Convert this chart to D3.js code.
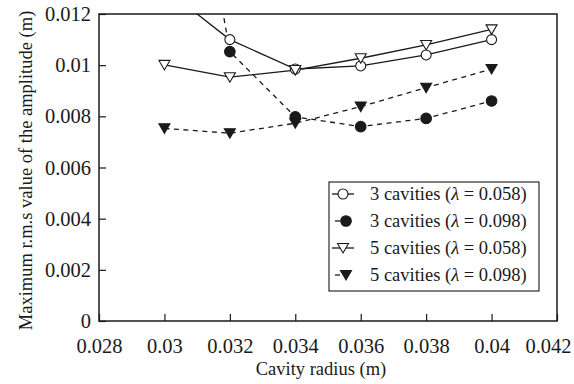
<!DOCTYPE html>
<html>
<head>
<meta charset="utf-8">
<script src="https://cdn.jsdelivr.net/npm/d3@7"></script>
<style>
  body { margin: 0; background: #fff; }
  svg { display: block; }
</style>
</head>
<body>
<div id="chart"></div>
<script>
// Cavity radius values (m)
const radius = [0.03, 0.032, 0.034, 0.036, 0.038, 0.04];

// Series values (m)
const cav3Low = [0.0130, 0.0110, 0.00985, 0.00997, 0.0104, 0.0110];
const cav3High = [0.0250, 0.01053, 0.00798, 0.00760, 0.00792, 0.0086];
const cav5Low = [0.01001, 0.00953, 0.00981, 0.01027, 0.01079, 0.0114];
const cav5High = [0.00753, 0.00734, 0.00773, 0.00838, 0.00912, 0.00985];

// Tick labels
const xTicks = [0.028, 0.03, 0.032, 0.034, 0.036, 0.038, 0.04, 0.042];
const xTickLabels = ["0.028", "0.03", "0.032", "0.034", "0.036", "0.038", "0.04", "0.042"];
const yTicks = [0, 0.002, 0.004, 0.006, 0.008, 0.01, 0.012];
const yTickLabels = ["0", "0.002", "0.004", "0.006", "0.008", "0.01", "0.012"];

const series = [
  { name: "3 cavities", lam: "0.058", values: cav3Low, marker: "circle", filled: false, dashed: false },
  { name: "3 cavities", lam: "0.098", values: cav3High, marker: "circle", filled: true, dashed: true },
  { name: "5 cavities", lam: "0.058", values: cav5Low, marker: "triangle", filled: false, dashed: false },
  { name: "5 cavities", lam: "0.098", values: cav5High, marker: "triangle", filled: true, dashed: true },
];

const width = 574, height = 384;
const margin = { top: 14, right: 17, bottom: 63, left: 99 };
const ink = "#1a1a1a";
const serifFont = "Liberation Serif";

const svg = d3.select("#chart")
  .append("svg")
  .attr("width", width)
  .attr("height", height)
  .attr("font-family", serifFont);

const x = d3.scaleLinear()
  .domain([0.028, 0.042])
  .range([margin.left, width - margin.right]);

const y = d3.scaleLinear()
  .domain([0, 0.012])
  .range([height - margin.bottom, margin.top]);

// Clip region for the plot
svg.append("clipPath")
  .attr("id", "plot-clip")
  .append("rect")
  .attr("x", x.range()[0])
  .attr("y", y.range()[1])
  .attr("width", x.range()[1] - x.range()[0])
  .attr("height", y.range()[0] - y.range()[1]);

// Axes with inward ticks
const xAxis = svg.append("g")
  .attr("transform", `translate(0,${y(0)})`)
  .call(d3.axisBottom(x)
    .tickValues(xTicks)
    .tickFormat((d, i) => xTickLabels[i])
    .tickSizeInner(-7)
    .tickSizeOuter(0)
    .tickPadding(17));

const yAxis = svg.append("g")
  .attr("transform", `translate(${x(0.028)},0)`)
  .call(d3.axisLeft(y)
    .tickValues(yTicks)
    .tickFormat((d, i) => yTickLabels[i])
    .tickSizeInner(-7)
    .tickSizeOuter(0)
    .tickPadding(8));

[xAxis, yAxis].forEach(g => {
  g.attr("font-family", serifFont).attr("font-size", 20.5);
  g.select(".domain").remove();
  g.selectAll("line").attr("stroke", ink).attr("stroke-width", 1.2);
  g.selectAll("text").attr("fill", ink);
});

// last x label sits a bit left so it stays on the page
xAxis.selectAll(".tick text")
  .filter((d, i) => i === xTicks.length - 1)
  .attr("dx", -9);

// Frame
svg.append("rect")
  .attr("x", x.range()[0])
  .attr("y", y.range()[1])
  .attr("width", x.range()[1] - x.range()[0])
  .attr("height", y.range()[0] - y.range()[1])
  .attr("fill", "none")
  .attr("stroke", ink)
  .attr("stroke-width", 1.5);

// Axis titles
svg.append("text")
  .attr("x", 321)
  .attr("y", 375)
  .attr("text-anchor", "middle")
  .attr("fill", ink)
  .attr("font-size", 18.5)
  .text("Cavity radius (m)");

svg.append("text")
  .attr("transform", `translate(32,${(y.range()[0] + y.range()[1]) / 2 + 3}) rotate(-90)`)
  .attr("text-anchor", "middle")
  .attr("fill", ink)
  .attr("font-size", 18.5)
  .text("Maximum r.m.s value of the amplitude (m)");

// Marker drawing helper
function drawMarker(sel, s) {
  if (s.marker === "circle") {
    sel.append("circle")
      .attr("r", s.filled ? 5.3 : 5)
      .attr("fill", s.filled ? ink : "#fff")
      .attr("stroke", ink)
      .attr("stroke-width", 1.1);
  } else {
    sel.append("path")
      .attr("d", "M-5.5,-4.5 L5.5,-4.5 L0,5 Z")
      .attr("fill", s.filled ? ink : "#fff")
      .attr("stroke", ink)
      .attr("stroke-width", 1.1);
  }
}

const plot = svg.append("g").attr("clip-path", "url(#plot-clip)");

const line = d3.line()
  .x((d, i) => x(radius[i]))
  .y(d => y(d));

// Lines first, then markers on top
series.forEach(s => {
  plot.append("path")
    .datum(s.values)
    .attr("d", line)
    .attr("fill", "none")
    .attr("stroke", ink)
    .attr("stroke-width", 1.3)
    .attr("stroke-dasharray", s.dashed ? "5,4.5" : null);
});

series.forEach(s => {
  plot.selectAll(null)
    .data(s.values.map((v, i) => [radius[i], v]).filter(d => d[1] <= 0.012))
    .join("g")
    .attr("transform", d => `translate(${x(d[0])},${y(d[1])})`)
    .each(function () { drawMarker(d3.select(this), s); });
});

// Legend
const legend = svg.append("g");
legend.append("rect")
  .attr("x", 329)
  .attr("y", 182)
  .attr("width", 210)
  .attr("height", 109)
  .attr("fill", "#fff")
  .attr("stroke", ink)
  .attr("stroke-width", 1.1);

series.forEach((s, i) => {
  const cy = 194 + i * 27;
  const row = legend.append("g");
  if (s.dashed) {
    row.append("line")
      .attr("x1", 335).attr("x2", 340)
      .attr("y1", cy).attr("y2", cy)
      .attr("stroke", ink).attr("stroke-width", 1.3);
  } else {
    row.append("line")
      .attr("x1", 332).attr("x2", 354)
      .attr("y1", cy).attr("y2", cy)
      .attr("stroke", ink).attr("stroke-width", 1.3);
  }
  const m = row.append("g")
    .attr("transform", `translate(${s.dashed ? 346 : 343},${cy})`);
  drawMarker(m, s);

  const t = row.append("text")
    .attr("x", 370)
    .attr("y", cy + 6)
    .attr("fill", ink)
    .attr("font-size", 18.5);
  t.append("tspan").text(`${s.name} (`);
  t.append("tspan").attr("font-style", "italic").text("λ");
  t.append("tspan").text(` = ${s.lam})`);
});
</script>
</body>
</html>
